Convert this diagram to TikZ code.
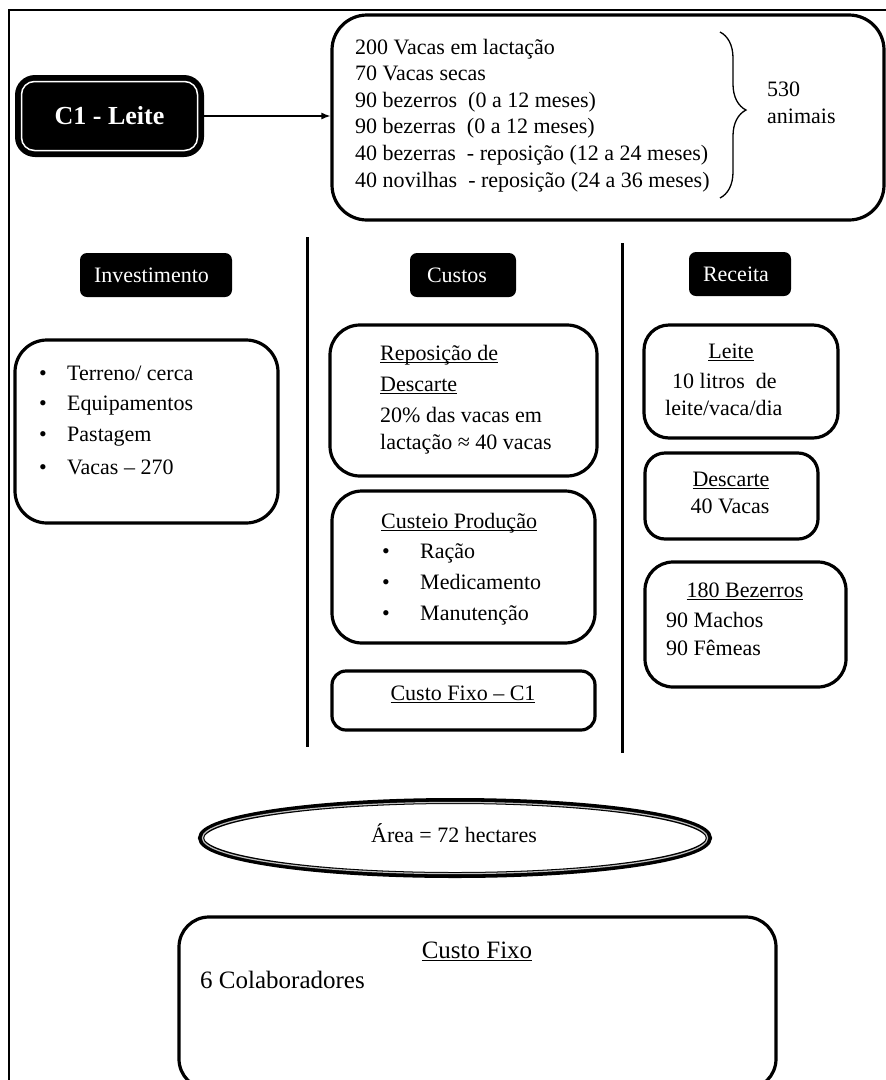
\documentclass[tikz,border=0pt]{standalone}
\usepackage{fontspec}
\setmainfont{Liberation Serif}
\usetikzlibrary{arrows.meta,shapes.geometric,decorations.pathreplacing}
\newcommand{\myul}[1]{\sbox0{#1}\rlap{\rule[-3pt]{\wd0}{1.2pt}}\usebox0}
\tikzset{
  bx/.style={draw, line width=3.2pt, rounded corners=#1, inner sep=0pt},
  bx/.default=28pt,
  hdr/.style={fill=black, rounded corners=7pt, inner sep=0pt},
  hdrtxt/.style={text=white, inner sep=0pt, font=\fontsize{22}{26}\selectfont},
  txt/.style={inner sep=0pt, font=\fontsize{22}{26}\selectfont},
  big/.style={inner sep=0pt, font=\fontsize{25}{29}\selectfont},
  divider/.style={line width=3pt},
}
\begin{document}
\begin{tikzpicture}[x=1pt,y=-1pt]
\useasboundingbox (0,0) rectangle (886,1080);
% outer frame (only left and top visible)
\draw[line width=1.8pt] (9,1095) -- (9,10) -- (900,10);

% C1 - Leite
\node[fill=black, rounded corners=20pt, minimum width=189pt, minimum height=82pt, inner sep=0pt] (c1) at (109.5,116) {};
\node[draw=white, line width=1.5pt, rounded corners=13pt, minimum width=176pt, minimum height=69pt, inner sep=0pt,
      text=white, font=\bfseries\fontsize{26}{30}\selectfont] (c1in) at (109.5,116) {C1 - Leite};

% top box
\node[bx=35pt, minimum width=552pt, minimum height=205pt] (top) at (608,117.5) {};
\draw[-{Latex[length=9pt,width=7pt]}, line width=1.3pt] (c1.east) -- (c1.east -| top.west);
\node[txt, anchor=base west] (l1) at (355,54) {200 Vacas em lactação};
\node[txt, anchor=base west] (l2) at (355,80.6) {70 Vacas secas};
\node[txt, anchor=base west] (l3) at (355,107.2) {90 bezerros\ \ (0 a 12 meses)};
\node[txt, anchor=base west] (l4) at (355,133.8) {90 bezerras\ \ (0 a 12 meses)};
\node[txt, anchor=base west] (l5) at (355,160.4) {40 bezerras\ \ - reposição (12 a 24 meses)};
\node[txt, anchor=base west] (l6) at (355,187) {40 novilhas\ \ - reposição (24 a 36 meses)};
\coordinate (bt) at (720,32);
\coordinate (bb) at (720,198);
\draw[decorate, decoration={brace, amplitude=26pt, aspect=0.47}, line width=1.3pt] (bt) -- (bb);
\node[txt, anchor=base west] (n530) at (767,96) {530};
\node[txt, anchor=base west] (nanim) at (767,123) {animais};

% dividers
\draw[divider] (307,237) -- (307,747);
\draw[divider] (622,243) -- (622,753);

% headers
\node[hdr, minimum width=152pt, minimum height=44pt] (hinv) at (156,275) {};
\node[hdrtxt, anchor=base] (hinvt) at (151.5,282) {Investimento};
\node[hdr, minimum width=106pt, minimum height=44pt] (hcus) at (463,275) {};
\node[hdrtxt, anchor=base] (hcust) at (457,282) {Custos};
\node[hdr, minimum width=102pt, minimum height=44pt] (hrec) at (740,274) {};
\node[hdrtxt, anchor=base] (hrect) at (736,281) {Receita};

% Investimento box
\node[bx=32pt, minimum width=263pt, minimum height=183pt] (inv) at (146.5,431.5) {};
\node[txt, anchor=base] (ib1) at (43,380) {•};
\node[txt, anchor=base west] (it1) at (67,380) {Terreno/ cerca};
\node[txt, anchor=base] (ib2) at (43,410) {•};
\node[txt, anchor=base west] (it2) at (67,410) {Equipamentos};
\node[txt, anchor=base] (ib3) at (43,441) {•};
\node[txt, anchor=base west] (it3) at (67,441) {Pastagem};
\node[txt, anchor=base] (ib4) at (43,474) {•};
\node[txt, anchor=base west] (it4) at (67,474) {Vacas – 270};

% Custos boxes
\node[bx=30pt, minimum width=267pt, minimum height=151pt] (rep) at (463.5,400.5) {};
\node[txt, anchor=base west] (r1) at (380,360) {\myul{Reposição de}};
\node[txt, anchor=base west] (r2) at (380,391) {\myul{Descarte}};
\node[txt, anchor=base west] (r3) at (380,422) {20\% das vacas em};
\node[txt, anchor=base west] (r4) at (380,449) {lactação ≈ 40 vacas};

\node[bx=30pt, minimum width=263pt, minimum height=152pt] (cus) at (463.5,567) {};
\node[txt, anchor=base west] (c0) at (381,528) {\myul{Custeio Produção}};
\node[txt, anchor=base] (cb1) at (386,558) {•};
\node[txt, anchor=base west] (ct1) at (420,558) {Ração};
\node[txt, anchor=base] (cb2) at (386,589) {•};
\node[txt, anchor=base west] (ct2) at (420,589) {Medicamento};
\node[txt, anchor=base] (cb3) at (386,620) {•};
\node[txt, anchor=base west] (ct3) at (420,620) {Manutenção};

\node[bx=14pt, minimum width=263pt, minimum height=59pt] (cf1) at (463.5,700.5) {};
\node[txt, anchor=base] (cf1t) at (463,700) {\myul{Custo Fixo – C1}};

% Receita boxes
\node[bx=25pt, minimum width=194pt, minimum height=113pt] (lei) at (741,381.5) {};
\node[txt, anchor=base] (lei1) at (731,358) {\myul{Leite}};
\node[txt, anchor=base west] (lei2) at (672,388) {10 litros\ \ de};
\node[txt, anchor=base west] (lei3) at (665,415) {leite/vaca/dia};

\node[bx=20pt, minimum width=173pt, minimum height=86pt] (des) at (731.5,496) {};
\node[txt, anchor=base] (des1) at (731,486) {\myul{Descarte}};
\node[txt, anchor=base] (des2) at (730,513) {40 Vacas};

\node[bx=28pt, minimum width=201pt, minimum height=125pt] (bez) at (745.5,624.5) {};
\node[txt, anchor=base] (bez1) at (745,597) {\myul{180 Bezerros}};
\node[txt, anchor=base west] (bez2) at (666,627) {90 Machos};
\node[txt, anchor=base west] (bez3) at (666,655) {90 Fêmeas};

% Area ellipse
\node[ellipse, minimum width=514pt, minimum height=80pt, inner sep=0pt] (area) at (455,838) {};
\draw[line width=6pt] (area.center) ellipse [x radius=254pt, y radius=37pt];
\draw[line width=1.2pt, gray!50] (area.center) ellipse [x radius=252.6pt, y radius=35.6pt];
\node[txt, anchor=base] (areat) at (454,842) {Área = 72 hectares};

% bottom box
\node[bx=30pt, minimum width=597pt, minimum height=172pt] (cfx) at (477.5,1003) {};
\node[big, anchor=base] (cfx1) at (477,958) {\myul{Custo Fixo}};
\node[big, anchor=base west] (cfx2) at (200,988) {6 Colaboradores};
\end{tikzpicture}
\end{document}
